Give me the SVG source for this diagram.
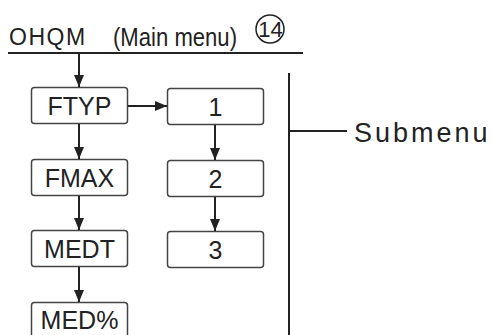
<svg xmlns="http://www.w3.org/2000/svg" width="492" height="335" viewBox="0 0 492 335">
<style>
.box{fill:#fff;stroke:#444;stroke-width:1.5}
.lbl{font-family:"Liberation Sans",Arial,sans-serif;font-size:25px;fill:#222;text-anchor:middle}
.ln{stroke:#222;stroke-width:2;fill:none}
.ar{stroke:#222;stroke-width:2;fill:none;marker-end:url(#ah)}
</style>
<defs>
<marker id="ah" markerUnits="userSpaceOnUse" markerWidth="13" markerHeight="12" refX="12" refY="6" orient="auto">
<path d="M0,1 L12,6 L0,11 Z" fill="#222"/>
</marker>
</defs>
<rect width="492" height="335" fill="#fff"/>
<g id="header">
<text x="9" y="45" font-family="Liberation Sans,Arial,sans-serif" font-size="23" fill="#222" letter-spacing="1.5">OHQM</text>
<text x="113" y="46" font-family="Liberation Sans,Arial,sans-serif" font-size="25" fill="#222" textLength="124" lengthAdjust="spacingAndGlyphs">(Main menu)</text>
<circle cx="270" cy="29" r="14" fill="none" stroke="#222" stroke-width="1.5"/>
<text x="270.5" y="37" font-family="Liberation Sans,Arial,sans-serif" font-size="22" fill="#222" text-anchor="middle">14</text>
<line class="ln" x1="8" y1="53" x2="303" y2="53"/>
</g>
<g id="ftyp"><rect class="box" x="31.5" y="87.5" width="96" height="36" rx="3"/><text class="lbl" x="79.5" y="115">FTYP</text></g>
<g id="fmax"><rect class="box" x="31.5" y="159.5" width="96" height="36" rx="3"/><text class="lbl" x="79.5" y="187">FMAX</text></g>
<g id="medt"><rect class="box" x="31.5" y="230.5" width="96" height="36" rx="3"/><text class="lbl" x="79.5" y="258">MEDT</text></g>
<g id="medp"><rect class="box" x="31.5" y="302.5" width="96" height="36" rx="3"/><text class="lbl" x="79.5" y="329">MED%</text></g>
<g id="s1"><rect class="box" x="167.5" y="88.5" width="96" height="36" rx="3"/><text class="lbl" x="215.5" y="116">1</text></g>
<g id="s2"><rect class="box" x="167.5" y="160.5" width="96" height="36" rx="3"/><text class="lbl" x="215.5" y="188">2</text></g>
<g id="s3"><rect class="box" x="167.5" y="231.5" width="96" height="36" rx="3"/><text class="lbl" x="215.5" y="259">3</text></g>
<g id="submenu">
<line class="ln" x1="289" y1="73" x2="289" y2="335"/>
<line class="ln" x1="289" y1="131" x2="347" y2="131"/>
<text x="354" y="142" font-family="Liberation Sans,Arial,sans-serif" font-size="27" fill="#222" letter-spacing="3">Submenu</text>
</g>
<g id="connectors">
<line class="ar" x1="79" y1="53" x2="79" y2="87"/>
<line class="ar" x1="79" y1="124" x2="79" y2="159"/>
<line class="ar" x1="79" y1="196" x2="79" y2="230"/>
<line class="ar" x1="79" y1="267" x2="79" y2="302"/>
<line class="ar" x1="128" y1="106" x2="167" y2="106"/>
<line class="ar" x1="215" y1="125" x2="215" y2="160"/>
<line class="ar" x1="215" y1="197" x2="215" y2="231"/>
</g>
</svg>
